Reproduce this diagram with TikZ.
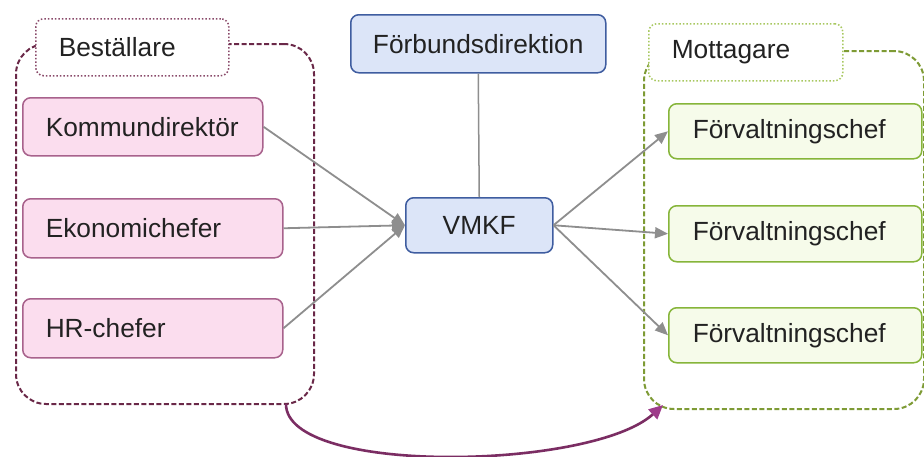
\documentclass[tikz,border=0pt]{standalone}
\usepackage{fontspec}
\setmainfont{Liberation Sans}
\usetikzlibrary{arrows.meta}
\definecolor{pinkfill}{HTML}{FBDDEE}
\definecolor{pinkdraw}{HTML}{A8628C}
\definecolor{bluefill}{HTML}{DCE5F8}
\definecolor{bluedraw}{HTML}{3F5DA0}
\definecolor{greenfill}{HTML}{F6FBEA}
\definecolor{greendraw}{HTML}{86B53A}
\definecolor{leftdash}{HTML}{6A2848}
\definecolor{leftdot}{HTML}{8A4A6A}
\definecolor{rightdash}{HTML}{7E9B35}
\definecolor{rightdot}{HTML}{A8C860}
\definecolor{arrowgrey}{HTML}{8E8E8E}
\definecolor{curvecol}{HTML}{7B2D63}
\definecolor{curvetip}{HTML}{9E3C8A}
\definecolor{txt}{HTML}{222222}
\begin{document}
\begin{tikzpicture}[x=1pt,y=-1pt,
  every node/.style={font=\fontsize{26.3}{31}\selectfont, text=txt, inner sep=0pt, anchor=north west},
  basebox/.style={rounded corners=8pt, line width=1.5pt},
  pinkbox/.style={basebox, fill=pinkfill, draw=pinkdraw},
  greenbox/.style={basebox, fill=greenfill, draw=greendraw},
  bluebox/.style={basebox, fill=bluefill, draw=bluedraw},
  leftlabel/.style={basebox, fill=white, draw=leftdot, dotted, line width=1.5pt},
  rightlabel/.style={basebox, fill=white, draw=rightdot, dotted, line width=1.5pt},
  leftgroup/.style={rounded corners=30pt, draw=leftdash, line width=2pt, dash pattern=on 5pt off 2.5pt},
  rightgroup/.style={rounded corners=30pt, draw=rightdash, line width=2pt, dash pattern=on 5pt off 2.5pt},
  conn/.style={draw=arrowgrey, line width=1.8pt, -{Triangle[length=13pt,width=11pt]}},
  plainconn/.style={draw=arrowgrey, line width=1.5pt},
  curvearrow/.style={draw=curvecol, line width=2.6pt, -{Triangle[length=14pt,width=13pt,fill=curvetip,color=curvetip]}}
]
\useasboundingbox (0,0) rectangle (924,456);
\fill[white] (0,0) rectangle (924,456);

% group containers
\node[leftgroup, minimum width=298pt, minimum height=360pt] (lg) at (15,43) {};
\node[rightgroup, minimum width=280pt, minimum height=358pt] (rg) at (643,50) {};

% group labels
\node[leftlabel, minimum width=193pt, minimum height=57pt, text width=147pt, align=left] (bl) at (35,18) {Beställare};
\node[rightlabel, minimum width=194pt, minimum height=57pt, text width=148pt, align=left] (ml) at (648,23) {Mottagare};

% left boxes
\node[pinkbox, minimum width=240pt, minimum height=58pt, text width=194pt, align=left] (k) at (22,97) {Kommundirektör};
\node[pinkbox, minimum width=260pt, minimum height=59pt, text width=214pt, align=left] (e) at (22,198) {Ekonomichefer};
\node[pinkbox, minimum width=260pt, minimum height=59pt, text width=214pt, align=left] (h) at (22,298) {HR-chefer};

% centre boxes
\node[bluebox, minimum width=255pt, minimum height=58pt, align=center] (fd) at (350,14) {Förbundsdirektion};
\node[bluebox, minimum width=147pt, minimum height=55pt, align=center] (v) at (405,197) {VMKF};

% right boxes
\node[greenbox, minimum width=253pt, minimum height=55pt, text width=205pt, align=left] (f1) at (668,103) {Förvaltningschef};
\node[greenbox, minimum width=253pt, minimum height=56pt, text width=205pt, align=left] (f2) at (668,205) {Förvaltningschef};
\node[greenbox, minimum width=253pt, minimum height=55pt, text width=205pt, align=left] (f3) at (668,307) {Förvaltningschef};

% connectors
\draw[plainconn] (fd.south) -- (v.north);
\draw[conn] (k.east) -- (v.west);
\draw[conn] (e.east) -- (v.west);
\draw[conn] (h.east) -- (v.west);
\draw[conn] (v.east) -- (f1.west);
\draw[conn] (v.east) -- (f2.west);
\draw[conn] (v.east) -- (f3.west);

% curved arrow between groups
\coordinate (cs) at (286,404);
\coordinate (ce) at (663,405);
\draw[curvearrow] (cs) .. controls (286,476) and (592,470) .. (ce);
\end{tikzpicture}
\end{document}
